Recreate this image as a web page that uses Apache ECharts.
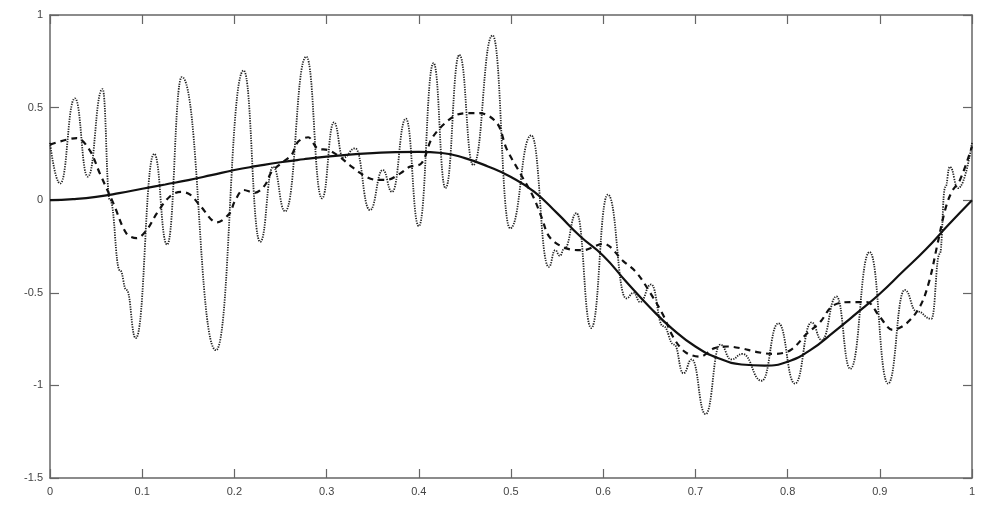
<!DOCTYPE html>
<html>
<head>
<meta charset="utf-8">
<script src="https://cdn.jsdelivr.net/npm/echarts@6/dist/echarts.min.js"></script>
<style>
  html, body { margin: 0; padding: 0; background: #fff; }
  #main { width: 985px; height: 524px; }
</style>
</head>
<body>
<div id="main"></div>
<script>
// solid curve
var solidX = [0, 0.025, 0.05, 0.075, 0.1, 0.125, 0.15, 0.175, 0.2, 0.225, 0.25, 0.275, 0.3, 0.325, 0.35, 0.375, 0.4, 0.425, 0.45, 0.475, 0.5, 0.525, 0.55, 0.575, 0.6, 0.625, 0.65, 0.675, 0.7, 0.725, 0.75, 0.775, 0.8, 0.825, 0.85, 0.875, 0.9, 0.925, 0.95, 0.975, 1];
var solidY = [0, 0.006, 0.018, 0.038, 0.062, 0.085, 0.108, 0.135, 0.163, 0.185, 0.205, 0.221, 0.235, 0.246, 0.254, 0.26, 0.261, 0.255, 0.227, 0.182, 0.125, 0.046, -0.07, -0.195, -0.3, -0.44, -0.575, -0.695, -0.79, -0.853, -0.887, -0.893, -0.872, -0.808, -0.712, -0.61, -0.505, -0.385, -0.265, -0.13, 0];

// dashed curve
var dashedX = [0, 0.029, 0.043, 0.054, 0.069, 0.083, 0.094, 0.105, 0.116, 0.13, 0.142, 0.152, 0.163, 0.181, 0.195, 0.2, 0.21, 0.222, 0.233, 0.24, 0.251, 0.262, 0.269, 0.28, 0.29, 0.302, 0.314, 0.325, 0.34, 0.354, 0.365, 0.38, 0.39, 0.403, 0.415, 0.437, 0.452, 0.466, 0.485, 0.495, 0.51, 0.524, 0.533, 0.542, 0.56, 0.578, 0.6, 0.622, 0.636, 0.651, 0.665, 0.676, 0.689, 0.705, 0.72, 0.735, 0.75, 0.767, 0.784, 0.803, 0.821, 0.835, 0.849, 0.868, 0.886, 0.9, 0.914, 0.929, 0.944, 0.954, 0.962, 0.971, 0.978, 0.987, 1];
var dashedY = [0.3, 0.335, 0.27, 0.145, -0.02, -0.18, -0.205, -0.16, -0.07, 0.02, 0.045, 0.03, -0.03, -0.12, -0.07, -0.01, 0.055, 0.04, 0.08, 0.15, 0.2, 0.245, 0.315, 0.34, 0.28, 0.27, 0.235, 0.19, 0.135, 0.11, 0.11, 0.145, 0.18, 0.2, 0.34, 0.45, 0.47, 0.47, 0.415, 0.28, 0.145, 0.02, -0.09, -0.2, -0.26, -0.27, -0.235, -0.33, -0.39, -0.5, -0.62, -0.74, -0.82, -0.845, -0.8, -0.79, -0.8, -0.82, -0.83, -0.81, -0.72, -0.66, -0.57, -0.55, -0.55, -0.63, -0.7, -0.665, -0.57, -0.43, -0.25, -0.05, 0.045, 0.11, 0.29];

// dotted curve
var dottedX = [0, 0.011, 0.027, 0.041, 0.057, 0.065, 0.076, 0.083, 0.093, 0.113, 0.127, 0.143, 0.18, 0.21, 0.228, 0.242, 0.255, 0.278, 0.295, 0.308, 0.318, 0.331, 0.347, 0.361, 0.371, 0.386, 0.4, 0.416, 0.429, 0.444, 0.459, 0.48, 0.499, 0.522, 0.541, 0.548, 0.553, 0.558, 0.571, 0.587, 0.605, 0.625, 0.633, 0.64, 0.652, 0.665, 0.677, 0.687, 0.696, 0.711, 0.727, 0.739, 0.751, 0.772, 0.79, 0.808, 0.826, 0.837, 0.853, 0.868, 0.889, 0.909, 0.927, 0.94, 0.956, 0.965, 0.971, 0.976, 0.985, 1];
var dottedY = [0.31, 0.09, 0.55, 0.127, 0.6, 0, -0.38, -0.485, -0.745, 0.25, -0.24, 0.665, -0.81, 0.7, -0.225, 0.18, -0.06, 0.775, 0.01, 0.42, 0.23, 0.28, -0.053, 0.163, 0.045, 0.44, -0.14, 0.74, 0.065, 0.785, 0.19, 0.89, -0.152, 0.35, -0.36, -0.27, -0.3, -0.26, -0.07, -0.69, 0.03, -0.53, -0.5, -0.55, -0.455, -0.68, -0.78, -0.935, -0.86, -1.155, -0.78, -0.86, -0.83, -0.975, -0.665, -0.99, -0.66, -0.755, -0.52, -0.91, -0.28, -0.99, -0.485, -0.6, -0.64, -0.29, 0.07, 0.18, 0.065, 0.31];

var yTicks = [-1.5, -1, -0.5, 0, 0.5, 1];

function pairs(xs, ys) {
  return xs.map(function (x, i) { return [x, ys[i]]; });
}

var axisColor = '#666';
var labelStyle = { color: '#444', fontSize: 11, fontFamily: 'Liberation Sans, Arial, sans-serif' };
var tickStyle = { show: true, inside: true, length: 9, lineStyle: { color: axisColor, width: 1.2 } };
var lineStyle = { show: true, onZero: false, lineStyle: { color: axisColor, width: 1.5 } };

var chart = echarts.init(document.getElementById('main'));
var option = {
  animation: false,
  backgroundColor: '#fff',
  grid: { left: 50, right: 13, top: 15, bottom: 46, containLabel: false },
  xAxis: [
    {
      type: 'value', min: 0, max: 1, interval: 0.1, position: 'bottom',
      axisLine: lineStyle, axisTick: tickStyle,
      axisLabel: Object.assign({ margin: 8 }, labelStyle),
      splitLine: { show: false }
    },
    {
      type: 'value', min: 0, max: 1, interval: 0.1, position: 'top',
      axisLine: lineStyle, axisTick: tickStyle,
      axisLabel: { show: false },
      splitLine: { show: false }
    }
  ],
  yAxis: [
    {
      type: 'value', min: yTicks[0], max: yTicks[yTicks.length - 1], interval: 0.5, position: 'left',
      axisLine: lineStyle, axisTick: tickStyle,
      axisLabel: Object.assign({ margin: 7 }, labelStyle),
      splitLine: { show: false }
    },
    {
      type: 'value', min: yTicks[0], max: yTicks[yTicks.length - 1], interval: 0.5, position: 'right',
      axisLine: lineStyle, axisTick: tickStyle,
      axisLabel: { show: false },
      splitLine: { show: false }
    }
  ],
  series: [
    {
      name: 'dotted', type: 'line', data: pairs(dottedX, dottedY),
      smooth: 0.5, smoothMonotone: 'x', showSymbol: false, symbol: 'none',
      lineStyle: { color: '#222', width: 1.8, type: [1.3, 1.2] },
      z: 2
    },
    {
      name: 'dashed', type: 'line', data: pairs(dashedX, dashedY),
      smooth: 0.35, showSymbol: false, symbol: 'none',
      lineStyle: { color: '#111', width: 2.2, type: [6, 5] },
      z: 3
    },
    {
      name: 'solid', type: 'line', data: pairs(solidX, solidY),
      smooth: true, showSymbol: false, symbol: 'none',
      lineStyle: { color: '#111', width: 2.2, type: 'solid' },
      z: 4
    }
  ]
};
chart.setOption(option);
</script>
</body>
</html>
